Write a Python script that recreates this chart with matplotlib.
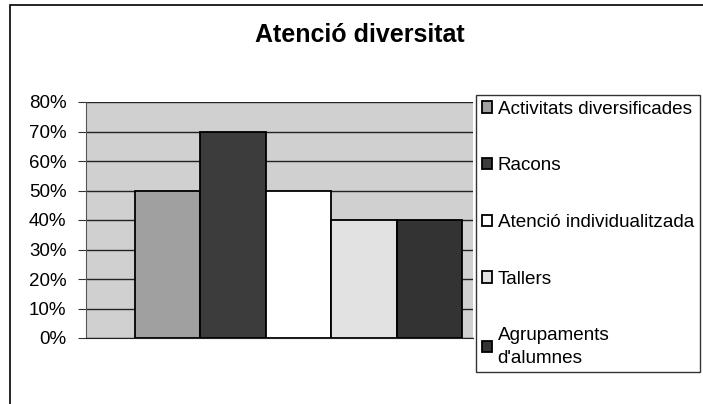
import matplotlib.pyplot as plt
from matplotlib.patches import Rectangle
from matplotlib.ticker import FuncFormatter

plt.rcParams['font.family'] = ['Liberation Sans', 'DejaVu Sans']

# data
labels = ["Activitats diversificades", "Racons", "Atenció individualitzada",
          "Tallers", "Agrupaments\nd'alumnes"]
values = [0.50, 0.70, 0.50, 0.40, 0.40]
colors = ['#a0a0a0', '#3c3c3c', '#ffffff', '#e2e2e2', '#333333']
yticks = [0, 0.1, 0.2, 0.3, 0.4, 0.5, 0.6, 0.7, 0.8]

W, H = 703, 404
fig = plt.figure(figsize=(W / 100, H / 100), dpi=100)

# outer chart frame (cut at right and bottom)
fig.patches.append(Rectangle((10 / W, -0.1), 1.2, (H - 5) / H + 0.1,
                             transform=fig.transFigure, fill=False,
                             edgecolor='black', linewidth=1.2))

ax = fig.add_axes([86 / W, 1 - 338 / H, (473 - 86) / W, (338 - 102) / H])
ax.set_facecolor('#d0d0d0')

x = range(len(values))
bars = ax.bar(x, values, width=1.0, color=colors, edgecolor='black',
              linewidth=1.3, zorder=3, label=labels)
ax.set_xlim(-1.25, 4.67)
ax.set_ylim(0, 0.8)
ax.set_yticks(yticks)
ax.yaxis.set_major_formatter(FuncFormatter(lambda v, p: f"{v * 100:.0f}%"))
ax.tick_params(axis='y', labelsize=13.5, length=6, direction='out', pad=8,
               color='#333333')
ax.tick_params(axis='x', bottom=False, labelbottom=False)
ax.grid(axis='y', color='#222222', linewidth=1.0, zorder=1)
for s in ['top', 'right']:
    ax.spines[s].set_visible(False)
ax.spines['left'].set_color('#555555')
ax.spines['bottom'].set_color('#222222')

fig.text(360 / W, 1 - 35 / H, "Atenció diversitat", ha='center', va='center',
         fontsize=18, fontweight='bold')

leg = fig.legend(bars, labels, loc='upper left',
                 bbox_to_anchor=(476 / W, 1 - 95 / H),
                 frameon=True, fancybox=False, edgecolor='black',
                 fontsize=13.6, handlelength=0.55, handleheight=0.55,
                 handletextpad=0.3, labelspacing=2.1, borderpad=0.3,
                 borderaxespad=0)
leg.get_frame().set_linewidth(1.0)
for t in leg.get_texts():
    t.set_linespacing(1.4)

fig.savefig("out.png", dpi=100)
